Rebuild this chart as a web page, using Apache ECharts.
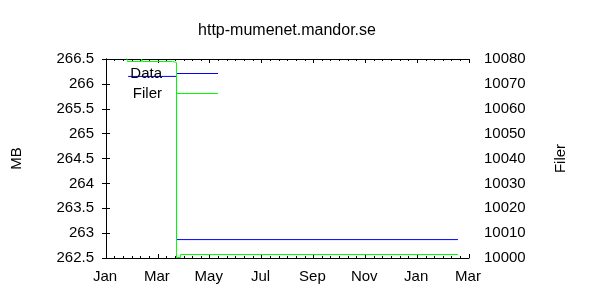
<!DOCTYPE html>
<html>
<head>
<meta charset="utf-8">
<script src="https://cdn.jsdelivr.net/npm/echarts@6/dist/echarts.min.js"></script>
<style>
html,body{margin:0;padding:0;background:#fff;}
#chart{width:600px;height:300px;}
</style>
</head>
<body>
<div id="chart"></div>
<script>
// x values: days since 1 Jan (first year)
const monthLabels = ['Jan', 'Mar', 'May', 'Jul', 'Sep', 'Nov', 'Jan', 'Mar'];
const dataDays = [26, 83, 414];
const dataMB = [266.15, 262.87, 262.87];
const filerDays = [24, 25.3, 41.8, 42.9, 78.2, 82.9, 87.6, 414];
const filerCount = [10080.6, 10079.0, 10080, 10079.0, 10078.6, 10000.2, 10001.4, 10001.4];

const FONT = 'Liberation Sans';
const FS = 15;
const X_INTERVAL = 61;
const X_MAX = X_INTERVAL * 7;

const pairs = (xs, ys) => xs.map((x, i) => [x, ys[i]]);

const chart = echarts.init(document.getElementById('chart'), null, {renderer: 'canvas'});

const xCommon = {
  type: 'value',
  min: 0,
  max: X_MAX,
  interval: X_INTERVAL,
  splitLine: {show: false},
  axisLine: {show: true, lineStyle: {color: '#000', width: 1}},
  axisTick: {show: true, inside: true, length: 4, lineStyle: {color: '#000'}},
  minorTick: {show: true, splitNumber: 6, length: 2, lineStyle: {color: '#000'}},
  minorSplitLine: {show: false}
};

chart.setOption({
  animation: false,
  backgroundColor: '#fff',
  textStyle: {fontFamily: FONT},
  title: {
    text: 'http-mumenet.mandor.se',
    left: 287,
    textAlign: 'center',
    top: 23,
    padding: 0,
    textStyle: {fontFamily: FONT, fontSize: 16, fontWeight: 'normal', color: '#000'}
  },
  legend: [
    {
      data: ['Data'], orient: 'vertical', right: 382, top: 66, padding: 0,
      align: 'right', icon: 'rect', itemWidth: 41, itemHeight: 1, selectedMode: false,
      textStyle: {fontFamily: FONT, fontSize: FS, color: '#000', padding: [0, 10, 0, 0]}
    },
    {
      data: ['Filer'], orient: 'vertical', right: 382, top: 86, padding: 0,
      align: 'right', icon: 'rect', itemWidth: 41, itemHeight: 1, selectedMode: false,
      textStyle: {fontFamily: FONT, fontSize: FS, color: '#000', padding: [0, 10, 0, 0]}
    }
  ],
  grid: {left: 106, right: 131, top: 59, bottom: 42, containLabel: false},
  xAxis: [
    Object.assign({}, xCommon, {
      position: 'bottom',
      axisLabel: {
        show: true, margin: 11, fontFamily: FONT, fontSize: FS, color: '#000',
        padding: [0, 2, 0, 0],
        formatter: v => monthLabels[Math.round(v / X_INTERVAL)] || ''
      }
    }),
    Object.assign({}, xCommon, {
      position: 'top',
      axisLabel: {show: false}
    })
  ],
  yAxis: [
    {
      type: 'value', min: 262.5, max: 266.5, interval: 0.5, position: 'left',
      name: 'MB', nameLocation: 'middle', nameRotate: 90, nameGap: 82,
      nameTextStyle: {fontFamily: FONT, fontSize: FS, color: '#000'},
      splitLine: {show: false},
      axisLine: {show: true, lineStyle: {color: '#000', width: 1}},
      axisTick: {show: true, inside: true, length: 4, lineStyle: {color: '#000'}},
      axisLabel: {margin: 12, fontFamily: FONT, fontSize: FS, color: '#000'}
    },
    {
      type: 'value', min: 10000, max: 10080, interval: 10, position: 'right',
      name: 'Filer', nameLocation: 'middle', nameRotate: 90, nameGap: 84,
      nameTextStyle: {fontFamily: FONT, fontSize: FS, color: '#000'},
      splitLine: {show: false},
      axisLine: {show: true, lineStyle: {color: '#000', width: 1}},
      axisTick: {show: true, inside: true, length: 4, lineStyle: {color: '#000'}},
      axisLabel: {margin: 15, fontFamily: FONT, fontSize: FS, color: '#000',
        formatter: v => String(v)}
    }
  ],
  series: [
    {
      name: 'Data', type: 'line', step: 'end', xAxisIndex: 0, yAxisIndex: 0,
      data: pairs(dataDays, dataMB),
      showSymbol: false, symbol: 'none', clip: true,
      lineStyle: {color: '#0000ff', width: 1},
      itemStyle: {color: '#0000ff'}
    },
    {
      name: 'Filer', type: 'line', step: 'end', xAxisIndex: 0, yAxisIndex: 1,
      data: pairs(filerDays, filerCount),
      showSymbol: false, symbol: 'none', clip: true,
      lineStyle: {color: '#00ff00', width: 1},
      itemStyle: {color: '#00ff00'}
    }
  ]
});
</script>
</body>
</html>
